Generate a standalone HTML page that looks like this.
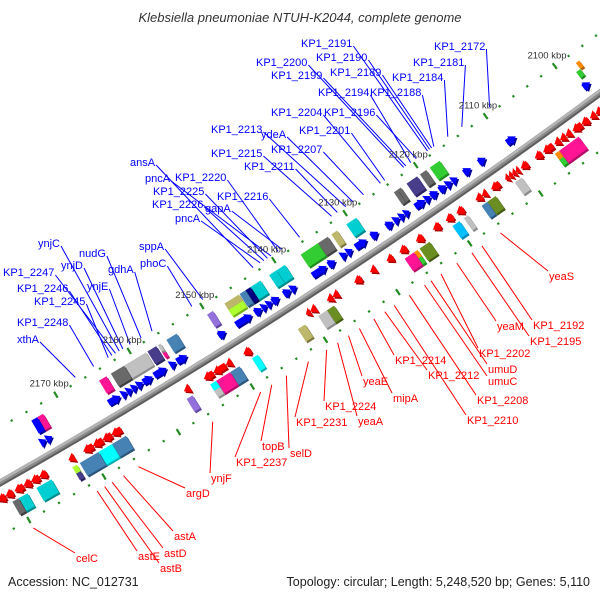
<!DOCTYPE html>
<html><head><meta charset="utf-8">
<style>
html,body{margin:0;padding:0;background:#fff;}
svg{display:block;font-family:"Liberation Sans",sans-serif;}
</style></head>
<body>
<svg id="chart" width="600" height="600" viewBox="0 0 600 600" xmlns="http://www.w3.org/2000/svg">
<rect x="0" y="0" width="600" height="600" fill="#fff"/>
<text x="300" y="22" text-anchor="middle" font-size="13" font-style="italic" fill="#333">Klebsiella pneumoniae NTUH-K2044, complete genome</text>
<text x="8" y="586" font-size="12.5" fill="#222">Accession: NC_012731</text>
<text x="590" y="586" text-anchor="end" font-size="12.5" fill="#222">Topology: circular; Length: 5,248,520 bp; Genes: 5,110</text>
<g id="lines"></g>
<g id="backbone"></g>
<g id="rulers"></g>
<g id="features"></g>
<g id="labels"></g>
</svg>
<script>
// ---- data (kbp) ----
const fwdGeneStart=[2097.8,2108.5,2112.8,2114.9,2116.8,2117.6,2118.4,2119.6,2120.6,2121.4,2123.6,2124.3,2125.0,2125.9,2128.0,2129.6,2131.6,2132.4,2134.0,2135.2,2139.4,2140.2,2141.8,2142.8,2143.5,2144.2,2145.6,2149.2,2154.5,2156.0,2157.3,2159.2,2160.5,2161.3,2162.0,2162.7,2163.6,2172.8,2173.6];
const fwdGeneEnd  =[2098.8,2109.8,2113.8,2115.9,2117.6,2118.4,2119.4,2120.6,2121.4,2122.8,2124.3,2125.0,2125.8,2126.9,2129.0,2131.2,2132.4,2133.2,2135.0,2137.2,2140.2,2141.2,2142.8,2143.5,2144.2,2145.2,2147.8,2150.2,2155.9,2156.8,2159.0,2160.5,2161.3,2162.0,2162.7,2163.4,2165.2,2173.6,2174.4];
const revGeneStart=[2098.5,2099.5,2100.5,2101.5,2103.0,2103.8,2104.6,2105.6,2107.2,2109.2,2110.4,2110.9,2111.4,2111.9,2113.2,2115.0,2115.7,2118.3,2119.8,2121.6,2124.0,2126.3,2128.2,2130.6,2132.6,2135.8,2136.6,2138.9,2139.7,2147.9,2150.5,2151.3,2153.0,2156.2,2165.5,2166.8,2168.0,2169.3,2171.8,2175.5,2176.5,2177.6,2178.6,2180.0,2181.0];
const revGeneEnd  =[2099.5,2100.3,2101.5,2102.8,2103.8,2104.6,2105.4,2107.0,2108.2,2110.2,2110.9,2111.4,2111.9,2112.4,2114.4,2115.7,2116.6,2119.3,2120.8,2122.6,2125.0,2127.3,2129.1,2131.4,2133.6,2136.6,2137.4,2139.7,2140.3,2148.9,2151.3,2153.0,2154.3,2157.0,2166.8,2168.0,2169.3,2170.6,2172.6,2176.5,2177.6,2178.6,2179.8,2181.0,2182.0];
// COG boxes: lane 0=full, 1=outer half, 2=inner half
const fwdCogStart=[2097.3,2097.8,2117.4,2119.3,2120.6,2122.9,2123.4,2129.2,2131.9,2133.2,2134.6,2139.2,2140.4,2142.6,2144.0,2144.7,2145.6,2145.6,2149.2,2154.2,2156.4,2156.4,2157.0,2158.4,2161.4,2163.8,2172.4,2173.2];
const fwdCogEnd  =[2097.8,2098.4,2118.8,2120.2,2122.1,2123.4,2123.9,2130.6,2132.7,2134.6,2137.0,2140.4,2141.4,2144.0,2144.7,2145.5,2147.6,2147.6,2150.0,2155.6,2156.8,2156.8,2158.2,2161.4,2163.2,2164.8,2173.2,2174.0];
const fwdCogClass=["orange","lime","lime","gray","slate","gray","gray","teal","khaki","gray","lime","teal","teal","teal","navy","steel","khaki","yellowgreen","purple","steel","pink","silver","slate","silver","gray","pink","pink","blue"];
const fwdCogLane =[1,2,0,0,0,0,0,0,0,0,0,0,0,0,0,0,1,2,0,0,2,1,0,0,0,0,0,0];
const revCogStart=[2102.6,2105.4,2105.4,2110.7,2114.4,2115.6,2118.3,2119.5,2123.7,2125.4,2125.4,2125.9,2137.0,2138.0,2141.0,2147.5,2150.0,2151.3,2153.2,2153.2,2156.4,2165.4,2167.3,2169.1,2172.0,2172.0,2175.4,2178.6,2179.8];
const revCogEnd  =[2105.4,2106.0,2106.0,2111.7,2115.6,2116.4,2118.9,2120.5,2125.1,2125.9,2125.9,2127.2,2138.0,2139.2,2142.0,2148.3,2151.3,2153.2,2154.0,2154.0,2157.2,2167.3,2169.1,2171.6,2172.6,2172.6,2177.4,2179.8,2180.6];
const revCogClass=["pink","orange","lime","silver","olive","steel","silver","sky","olive","orange","lime","pink","olive","silver","khaki","aqua","steel","pink","aqua","silver","purple","steel","aqua","steel","yellowgreen","slate","teal","teal","gray"];
const revCogLane =[0,2,1,0,0,0,0,0,0,2,1,0,0,0,0,0,0,0,2,1,0,0,0,0,2,1,0,0,0];
const rulerTicks=[2100,2110,2120,2130,2140,2150,2160,2170,2180];
const rulerTickLabels=["2100 kbp","2110 kbp","2120 kbp","2130 kbp","2140 kbp","2150 kbp","2160 kbp","2170 kbp",""];
const fwdLabelText=["KP1_2191","KP1_2190","KP1_2172","KP1_2200","KP1_2199","KP1_2189","KP1_2181","KP1_2184","KP1_2194","KP1_2188","KP1_2204","KP1_2196","KP1_2213","ydeA","KP1_2201","KP1_2207","KP1_2215","KP1_2211","ansA","pncA","KP1_2220","KP1_2225","KP1_2226","gapA","KP1_2216","pncA","sppA","nudG","ynjC","gdhA","ynjD","phoC","KP1_2247","ynjE","KP1_2246","KP1_2245","KP1_2248","xthA"];
const fwdLabelKbp=[2117.9,2117.6,2109,2121.3,2121,2117.3,2113,2115,2120.3,2117,2124.6,2119.5,2129.5,2128.5,2124,2127,2131.5,2130.7,2142.5,2140,2139,2140.5,2141,2138.5,2136,2141.5,2149.5,2158,2161,2156.5,2160.5,2151,2161.5,2159.5,2162,2162.5,2164.5,2167];
const fwdLabelX=[301,316,434,256,271,330,413,392,318,370,271,324,211,261,299,271,211,244,130,145,175,153,152,205,217,175,139,79,38,108,61,140,3,87,17,34,17,17];
const fwdLabelY=[43,57,46,62,75,72,62,77,92,92,112,112,129,134,130,149,153,166,162,178,177,191,204,208,196,218,246,253,243,269,265,263,272,286,288,301,322,339];
const revLabelText=["yeaS","KP1_2192","KP1_2195","yeaM","KP1_2202","umuD","umuC","KP1_2208","KP1_2210","KP1_2212","KP1_2214","mipA","yeaE","yeaA","KP1_2224","KP1_2231","selD","topB","KP1_2237","ynjF","argD","astA","astD","astB","astE","celC"];
const revLabelKbp=[2116.4,2119,2120.4,2122.5,2124.7,2126.1,2127,2129.1,2131.2,2132.5,2134,2136,2137.5,2139,2140.5,2143,2146,2148,2149.5,2156,2166,2168,2169.5,2170.5,2171.5,2180];
const revLabelX=[549,533,530,497,479,488,488,477,467,428,395,393,363,358,325,296,290,262,236,211,186,174,164,160,138,76];
const revLabelY=[276,325,341,326,353,369,381,400,420,375,360,398,381,421,406,422,453,446,462,478,493,536,553,568,556,558];

// ---- styles / geometry ----
const cogColor={orange:["#ff8c00","#b06000"],lime:["#32cd32","#1f8a1f"],gray:["#696969","#3e3e3e"],slate:["#483d8b","#2a2360"],teal:["#00ced1","#00898b"],khaki:["#bdb76b","#7d7840"],navy:["#000080","#000050"],steel:["#4682b4","#2b5479"],yellowgreen:["#adff2f","#73b01a"],purple:["#9370db","#5f44a0"],pink:["#ff1493","#b00d66"],silver:["#c0c0c0","#8a8a8a"],blue:["#0000ff","#0000a0"],olive:["#6b8e23","#445a14"],sky:["#00bfff","#0086b3"],aqua:["#00ffff","#00b0b0"]};
const Cx=-2894,Cy=-4627,R=5872,DEG=0.084,T0=55.37;
function angDeg(k){return T0+(k-2120)*DEG;}
function pt(k,off){const a=angDeg(k)*Math.PI/180,r=R+off;return [Cx+r*Math.cos(a),Cy+r*Math.sin(a)];}
function lenPx(s,e,off){return Math.abs(e-s)*DEG*Math.PI/180*(R+off);}
const NS="http://www.w3.org/2000/svg";
function mk(tag,attrs,parent){const el=document.createElementNS(NS,tag);for(const k in attrs)el.setAttribute(k,attrs[k]);parent.appendChild(el);return el;}
function placed(k,off,parent,shadow){
  const p=pt(k,off);const dx=shadow?1.6:0;
  return mk("g",{transform:`translate(${(p[0]+dx).toFixed(2)},${(p[1]+dx).toFixed(2)}) rotate(${(angDeg(k)-90).toFixed(3)})`},parent);
}

// backbone
const bb=document.getElementById("backbone");
function arcPath(off){let d="";for(let k=2088;k<=2192;k+=1){const p=pt(k,off);d+=(k===2088?"M":"L")+p[0].toFixed(2)+","+p[1].toFixed(2);}return d;}
const bb1=mk("path",{d:arcPath(0.5),stroke:"#8a8a8a","stroke-width":7,fill:"none"},bb);


const bb2=mk("path",{d:arcPath(-1.5),stroke:"#b5b5b5","stroke-width":2.5,fill:"none"},bb);


const bb3=mk("path",{d:arcPath(3),stroke:"#5e5e5e","stroke-width":2,fill:"none"},bb);



// rulers
const rg=document.getElementById("rulers");
[-48,47].forEach(off=>{
  for(let k=2094;k<=2186;k+=2){
    const g=placed(k,off,rg,false);
    if(k%10===0){
      const t=mk("rect",{x:-1,y:-3.5,width:2.2,height:7,fill:"#228b22"},g);
      
      
    } else {
      const d=mk("rect",{x:-1,y:-1,width:2.2,height:2.2,fill:"#228b22"},g);
      
      
    }
  }
});
rulerTicks.forEach((k,i)=>{
  if(!rulerTickLabels[i])return;
  const p=pt(k,-61);
  const t=mk("text",{x:p[0].toFixed(1),y:(p[1]+3).toFixed(1),"text-anchor":"middle","font-size":"9.5",fill:"#333"},rg);
  t.textContent=rulerTickLabels[i];
  
  
});

// features
const fg=document.getElementById("features");
function arrowPts(L,dir){
  const hl=Math.min(L,7),h=5,b=3.2,tail=-dir*L/2,tip=dir*L/2,neck=tip-dir*hl;
  if(L<=hl+0.5)return `${tail},${-h} ${tip},0 ${tail},${h}`;
  return `${tail},${-b} ${neck},${-b} ${neck},${-h} ${tip},0 ${neck},${h} ${neck},${b} ${tail},${b}`;
}
function drawArrow(s,e,off,dir,fill,dark,name){
  const k=(s+e)/2,L=lenPx(s,e,off);
  for(const sh of [true,false]){
    const g=placed(k,off,fg,sh);
    const a=mk("polygon",{points:arrowPts(L,dir),fill:sh?dark:fill},g);
    
    
  }
}
function drawBox(s,e,y0,y1,cls,name){
  const k=(s+e)/2,L=lenPx(s,e,(y0+y1)/2),c=cogColor[cls];
  for(const sh of [true,false]){
    const g=placed(k,0,fg,sh);
    const r=mk("rect",{x:(-L/2).toFixed(2),y:y0,width:Math.max(L,1).toFixed(2),height:y1-y0,fill:sh?c[1]:c[0]},g);
    
    
  }
}
fwdGeneStart.forEach((s,i)=>drawArrow(s,fwdGeneEnd[i],-14,1,"#0000ff","#00009a","forward-gene"));
revGeneStart.forEach((s,i)=>drawArrow(s,revGeneEnd[i],15,-1,"#ff0000","#a80000","reverse-gene"));
fwdCogStart.forEach((s,i)=>{
  const lane=fwdCogLane[i];let y0=-38,y1=-23;
  if(lane===1){y1=-30.5;} else if(lane===2){y0=-30.5;}
  drawBox(s,fwdCogEnd[i],y0,y1,fwdCogClass[i],"forward-cog-box");
});
revCogStart.forEach((s,i)=>{
  const lane=revCogLane[i];let y0=23,y1=38;
  if(lane===1){y0=30.5;} else if(lane===2){y1=30.5;}
  drawBox(s,revCogEnd[i],y0,y1,revCogClass[i],"reverse-cog-box");
});

// labels + leader lines
const lg=document.getElementById("labels"),ln=document.getElementById("lines");
fwdLabelText.forEach((txt,i)=>{
  const t=mk("text",{x:fwdLabelX[i],y:fwdLabelY[i]+4,"font-size":"11",fill:"#0000ff"},lg);
  t.textContent=txt;
  
  
  const w=t.getComputedTextLength?t.getComputedTextLength():txt.length*6;
  const p=pt(fwdLabelKbp[i],-53);
  const l=mk("line",{x1:(fwdLabelX[i]+w+1).toFixed(1),y1:fwdLabelY[i]+3,x2:p[0].toFixed(1),y2:p[1].toFixed(1),stroke:"#0000ff","stroke-width":1},ln);
  
  
});
revLabelText.forEach((txt,i)=>{
  const t=mk("text",{x:revLabelX[i],y:revLabelY[i]+4,"font-size":"11",fill:"#ff0000"},lg);
  t.textContent=txt;
  
  
  const p=pt(revLabelKbp[i],56);
  const l=mk("line",{x1:p[0].toFixed(1),y1:p[1].toFixed(1),x2:revLabelX[i]-1,y2:revLabelY[i]-5,stroke:"#ff0000","stroke-width":1},ln);
  
  
});
</script>
</body></html>
